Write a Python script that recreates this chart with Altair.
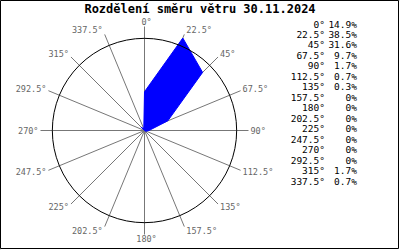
import altair as alt
import pandas as pd

directions = [0, 22.5, 45, 67.5, 90, 112.5, 135, 157.5, 180, 202.5, 225, 247.5, 270, 292.5, 315, 337.5]
percent = [14.9, 38.5, 31.6, 9.7, 1.7, 0.7, 0.3, 0, 0, 0, 0, 0, 0, 0, 1.7, 0.7]
title_text = "Rozdělení směru větru 30.11.2024"
r_max = 40

df = pd.DataFrame({"dir": directions, "pct": percent, "idx": list(range(len(directions)))})

W, H = 400, 250
k = 2.6  # px per percent
cx, cy = 144.5, 130.5
xs = alt.Scale(domain=[-cx / k, (W - cx) / k], range=[0, W], nice=False, zero=False)
ys = alt.Scale(domain=[-(H - cy) / k, cy / k], range=[H, 0], nice=False, zero=False)

base = alt.Chart(df).transform_calculate(
    s="sin(datum.dir*PI/180)", c="cos(datum.dir*PI/180)"
).transform_calculate(
    px="datum.pct*datum.s", py="datum.pct*datum.c",
    ex=f"{r_max}*datum.s", ey=f"{r_max}*datum.c",
    lx=f"{r_max}*datum.s", ly=f"{r_max}*datum.c + 1.8*datum.c",
    zero="0",
)

spokes = base.mark_rule(color="#777777", strokeWidth=1).encode(
    x=alt.X("zero:Q", scale=xs, axis=None),
    y=alt.Y("zero:Q", scale=ys, axis=None),
    x2="ex:Q", y2="ey:Q",
)

circle = alt.Chart(pd.DataFrame({"x": [0], "y": [0]})).mark_point(
    shape="circle", size=3.14159 * (r_max * k) ** 2, filled=False,
    stroke="black", strokeWidth=1, opacity=1,
).encode(x=alt.X("x:Q", scale=xs, axis=None), y=alt.Y("y:Q", scale=ys, axis=None))

poly = base.mark_line(
    fill="#0000ff", stroke="#0000ff", strokeWidth=1, interpolate="linear-closed"
).encode(
    x=alt.X("px:Q", scale=xs, axis=None),
    y=alt.Y("py:Q", scale=ys, axis=None),
    order="idx:Q",
)

lab_base = base.transform_calculate(t="datum.dir + '°'")
lab_kw = dict(font="DejaVu Sans Mono", fontSize=8.5, color="#666666", baseline="middle")
lab_enc = dict(
    x=alt.X("lx:Q", scale=xs, axis=None),
    y=alt.Y("ly:Q", scale=ys, axis=None),
    text="t:N",
)
lab_r = lab_base.transform_filter("datum.s > 0.01").mark_text(align="left", dx=2, **lab_kw).encode(**lab_enc)
lab_l = lab_base.transform_filter("datum.s < -0.01").mark_text(align="right", dx=-2, **lab_kw).encode(**lab_enc)
lab_c = lab_base.transform_filter("abs(datum.s) <= 0.01").mark_text(align="center", dx=2, **lab_kw).encode(**lab_enc)

rowscale = alt.Scale(type="point", domain=list(range(len(directions))), range=[24.5, 181.5], padding=0)
col_base = alt.Chart(df).transform_calculate(
    t="datum.dir + '°'",
    p="datum.pct == 0 ? '0%' : format(datum.pct, '.1f') + '%'",
)
col_kw = dict(font="DejaVu Sans Mono", fontSize=9.5, color="black", baseline="middle", align="right")
col_dir = col_base.mark_text(**col_kw).encode(
    x=alt.value(325), y=alt.Y("idx:O", scale=rowscale, axis=None), text="t:N"
)
col_pct = col_base.mark_text(**col_kw).encode(
    x=alt.value(357), y=alt.Y("idx:O", scale=rowscale, axis=None), text="p:N"
)

title = alt.Chart(pd.DataFrame({"t": [title_text]})).mark_text(
    font="DejaVu Sans Mono", fontSize=12, fontWeight="bold", color="black", align="center", baseline="middle"
).encode(x=alt.value(200), y=alt.value(9), text="t:N")

frame = alt.Chart(pd.DataFrame({"a": [0]})).mark_rect(
    fill=None, stroke="black", strokeWidth=1
).encode(x=alt.value(0.5), x2=alt.value(398.5), y=alt.value(0.5), y2=alt.value(248.5))

chart = alt.layer(
    spokes, poly, circle, lab_r, lab_l, lab_c, col_dir, col_pct, title, frame
).resolve_scale(x="independent", y="independent").properties(
    width=W, height=H, autosize=alt.AutoSizeParams(type="none"), padding=0
).configure_view(stroke=None).configure(background="white")

chart.save("out.html", embed_options={"renderer": "svg", "actions": False})
